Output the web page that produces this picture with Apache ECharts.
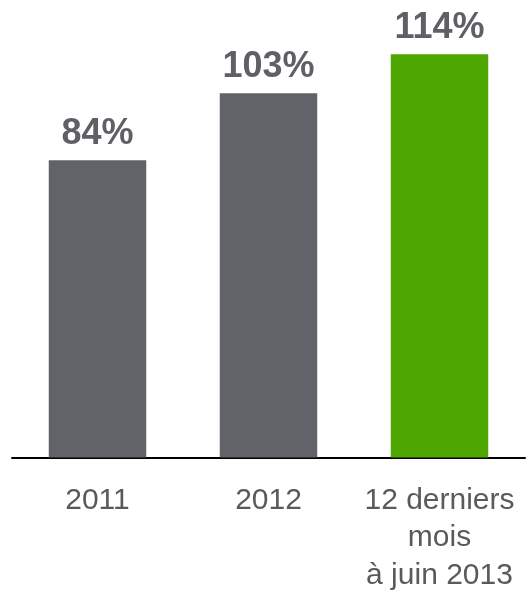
<!DOCTYPE html>
<html lang="fr">
<head>
<meta charset="UTF-8">
<title>Taux</title>
<script src="https://cdn.jsdelivr.net/npm/echarts@6/dist/echarts.min.js"></script>
<style>
  html, body { margin: 0; padding: 0; background: #fff; }
</style>
</head>
<body>
<div id="main" style="width:529px;height:594px;"></div>
<script type="text/javascript">
var categories = ['2011', '2012', '12 derniers\nmois\nà juin 2013'];
var values = [84, 103, 114];
var barColors = ['#626368', '#626368', '#4ea600'];

var myChart = echarts.init(document.getElementById('main'));

var option = {
    animation: false,
    grid: { left: 12, right: 4, top: 33, bottom: 135 },
    xAxis: {
        type: 'category',
        data: categories,
        axisLine: { lineStyle: { color: '#000', width: 2 } },
        axisTick: { show: false },
        axisLabel: {
            interval: 0,
            color: '#5a5a5e',
            fontFamily: 'Liberation Sans, Arial, sans-serif',
            fontSize: 30,
            lineHeight: 37.5,
            margin: 24
        }
    },
    yAxis: {
        type: 'value',
        min: 0,
        max: 120,
        show: false
    },
    series: [{
        type: 'bar',
        barCategoryGap: '43%',
        data: values.map(function (v, i) {
            return { value: v, itemStyle: { color: barColors[i] } };
        }),
        label: {
            show: true,
            position: 'top',
            distance: 8,
            formatter: '{c}%',
            color: '#5f6066',
            fontFamily: 'Liberation Sans, Arial, sans-serif',
            fontWeight: 'bold',
            fontSize: 36
        }
    }]
};

myChart.setOption(option);
</script>
</body>
</html>
